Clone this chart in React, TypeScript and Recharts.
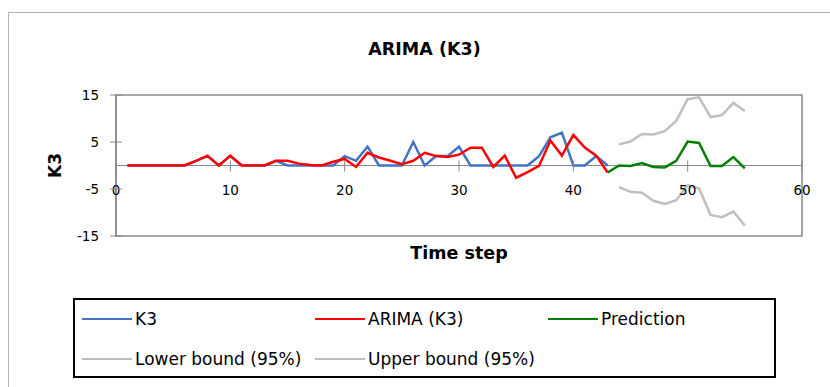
import React from 'react';
import { LineChart, Line, XAxis, YAxis, ReferenceLine, ReferenceArea, Legend } from 'recharts';

const FONT = '"DejaVu Sans", sans-serif';

// time steps on the x axis
const steps = [
  1, 2, 3, 4, 5, 6, 7, 8, 9, 10, 11, 12, 13, 14, 15, 16, 17, 18, 19, 20,
  21, 22, 23, 24, 25, 26, 27, 28, 29, 30, 31, 32, 33, 34, 35, 36, 37, 38, 39, 40,
  41, 42, 43, 44, 45, 46, 47, 48, 49, 50, 51, 52, 53, 54, 55,
];

// observed K3, steps 1..43
const k3Values = [
  0, 0, 0, 0, 0, 0, 1, 2, 0, 2, 0, 0, 0, 1, 0, 0, 0, 0, 0, 2,
  1, 4, 0, 0, 0, 5, 0, 2, 2, 4, 0, 0, 0, 0, 0, 0, 2, 6, 7, 0,
  0, 2, 0,
];

// fitted ARIMA, steps 1..43
const arimaValues = [
  0, 0, 0, 0, 0, 0, 1, 2.1, 0, 2.1, 0, 0, 0, 1, 1, 0.4, 0.1, 0, 0.8, 1.4,
  -0.3, 2.7, 1.7, 1, 0.3, 1, 2.7, 2, 1.8, 2.3, 3.8, 3.8, -0.3, 2.1, -2.6, -1.4, -0.1, 5.3, 2.1, 6.5,
  3.8, 2.1, -1.5,
];

// forecast, steps 43..55
const predictionStart = 43;
const predictionValues = [-1.5, 0, -0.1, 0.5, -0.3, -0.4, 1, 5.1, 4.8, -0.1, -0.1, 1.8, -0.6];

// 95% bounds, steps 44..55
const boundStart = 44;
const lowerValues = [-4.6, -5.6, -5.8, -7.5, -8.2, -7.4, -4.2, -4.9, -10.5, -11, -9.8, -12.8];
const upperValues = [4.5, 5.1, 6.7, 6.6, 7.3, 9.5, 14.1, 14.5, 10.3, 10.7, 13.3, 11.6];

const xTicks = [0, 10, 20, 30, 40, 50, 60];
const yTicks = [-15, -5, 5, 15];

const seriesNames = ['K3', 'ARIMA (K3)', 'Prediction', 'Lower bound (95%)', 'Upper bound (95%)'];

const data = steps.map((t) => ({
  t,
  k3: k3Values[t - 1],
  arima: arimaValues[t - 1],
  prediction: t >= predictionStart ? predictionValues[t - predictionStart] : undefined,
  lower: t >= boundStart ? lowerValues[t - boundStart] : undefined,
  upper: t >= boundStart ? upperValues[t - boundStart] : undefined,
}));

const PLOT_H = 141;
const AXIS_GRAY = '#898989';

function XTick(props: any) {
  const { x, y, payload } = props;
  const zeroY = y - PLOT_H / 2; // horizontal axis crosses at 0
  return (
    <g>
      <line x1={x} x2={x} y1={zeroY - 5} y2={zeroY + 6} stroke={AXIS_GRAY} strokeWidth={1} />
      <text x={x} y={zeroY + 25} dy="0.35em" textAnchor="middle" fontFamily={FONT} fontSize={13.5} fill="#000">
        {payload.value}
      </text>
    </g>
  );
}

function YTick(props: any) {
  const { x, y, payload } = props;
  return (
    <g>
      <line x1={x - 6} x2={x + 6} y1={y} y2={y} stroke={AXIS_GRAY} strokeWidth={1} />
      <text x={x - 17} y={y} dy="0.35em" textAnchor="end" fontFamily={FONT} fontSize={13.5} fill="#000">
        {payload.value}
      </text>
    </g>
  );
}

function LegendBox(props: any) {
  const items = [...(props.payload || [])].sort(
    (a: any, b: any) => seriesNames.indexOf(a.value) - seriesNames.indexOf(b.value),
  );
  return (
    <div
      style={{
        boxSizing: 'border-box',
        width: 703,
        height: 80,
        border: '2px solid #000',
        position: 'relative',
        fontFamily: FONT,
        fontSize: 17,
        color: '#000',
      }}
    >
      {items.map((item: any, i: number) => (
        <div
          key={item.value}
          style={{
            position: 'absolute',
            left: 7 + (i % 3) * 233,
            top: i < 3 ? 9 : 49,
            height: 20,
            display: 'flex',
            alignItems: 'center',
            whiteSpace: 'nowrap',
          }}
        >
          <span style={{ display: 'inline-block', width: 50, borderTop: `2.5px solid ${item.color}` }} />
          <span style={{ marginLeft: 3 }}>{item.value}</span>
        </div>
      ))}
    </div>
  );
}

export default function App() {
  return (
    <div style={{ position: 'relative', width: 830, height: 387, overflow: 'hidden', background: '#fff' }}>
      <style>{'body{margin:0}'}</style>
      <div
        style={{
          position: 'absolute',
          left: 8,
          top: 12,
          width: 840,
          height: 400,
          borderLeft: '1.5px solid #b3b3b3',
          borderTop: '1.5px solid #b3b3b3',
        }}
      />
      <div
        style={{
          position: 'absolute',
          left: 0,
          top: 39,
          width: 849,
          textAlign: 'center',
          fontFamily: FONT,
          fontWeight: 'bold',
          fontSize: 17.5,
          lineHeight: '20px',
          color: '#000',
        }}
      >
        ARIMA (K3)
      </div>
      <div style={{ position: 'absolute', left: 0, top: 0 }}>
        <LineChart width={830} height={387} data={data} margin={{ top: 95, right: 28, left: 56, bottom: 121 }}>
          <ReferenceArea x1={0} x2={60} y1={-15} y2={15} fill="none" stroke={AXIS_GRAY} strokeWidth={1.5} />
          <ReferenceLine y={0} stroke={AXIS_GRAY} strokeWidth={1} />
          <XAxis
            dataKey="t"
            type="number"
            domain={[0, 60]}
            ticks={xTicks}
            height={30}
            axisLine={false}
            tickLine={false}
            tickSize={0}
            tickMargin={0}
            tick={<XTick />}
            label={{
              content: ({ viewBox }: any) => (
                <text
                  x={viewBox.x + viewBox.width / 2}
                  y={viewBox.y + 23}
                  textAnchor="middle"
                  fontFamily={FONT}
                  fontWeight="bold"
                  fontSize={17.5}
                  fill="#000"
                >
                  Time step
                </text>
              ),
            }}
          />
          <YAxis
            type="number"
            domain={[-15, 15]}
            ticks={yTicks}
            width={60}
            axisLine={{ stroke: AXIS_GRAY, strokeWidth: 1.5 }}
            tickLine={false}
            tickSize={0}
            tickMargin={0}
            tick={<YTick />}
            label={{
              content: ({ viewBox }: any) => {
                const cx = viewBox.x - 1;
                const cy = viewBox.y + viewBox.height / 2;
                return (
                  <text
                    x={cx}
                    y={cy}
                    transform={`rotate(-90 ${cx} ${cy})`}
                    textAnchor="middle"
                    dominantBaseline="central"
                    fontFamily={FONT}
                    fontWeight="bold"
                    fontSize={17}
                    fill="#000"
                  >
                    K3
                  </text>
                );
              },
            }}
          />
          <Legend
            layout="horizontal"
            verticalAlign="middle"
            align="center"
            width={703}
            wrapperStyle={{ left: 73, top: 298, width: 703, height: 80 }}
            content={<LegendBox />}
          />
          <Line name="K3" dataKey="k3" stroke="#4472C4" strokeWidth={2.5} dot={false} isAnimationActive={false} />
          <Line name="ARIMA (K3)" dataKey="arima" stroke="#FF0000" strokeWidth={2.5} dot={false} isAnimationActive={false} />
          <Line name="Prediction" dataKey="prediction" stroke="#008000" strokeWidth={2.5} dot={false} isAnimationActive={false} />
          <Line name="Lower bound (95%)" dataKey="lower" stroke="#BFBFBF" strokeWidth={2.5} dot={false} isAnimationActive={false} />
          <Line name="Upper bound (95%)" dataKey="upper" stroke="#BFBFBF" strokeWidth={2.5} dot={false} isAnimationActive={false} />
        </LineChart>
      </div>
    </div>
  );
}
